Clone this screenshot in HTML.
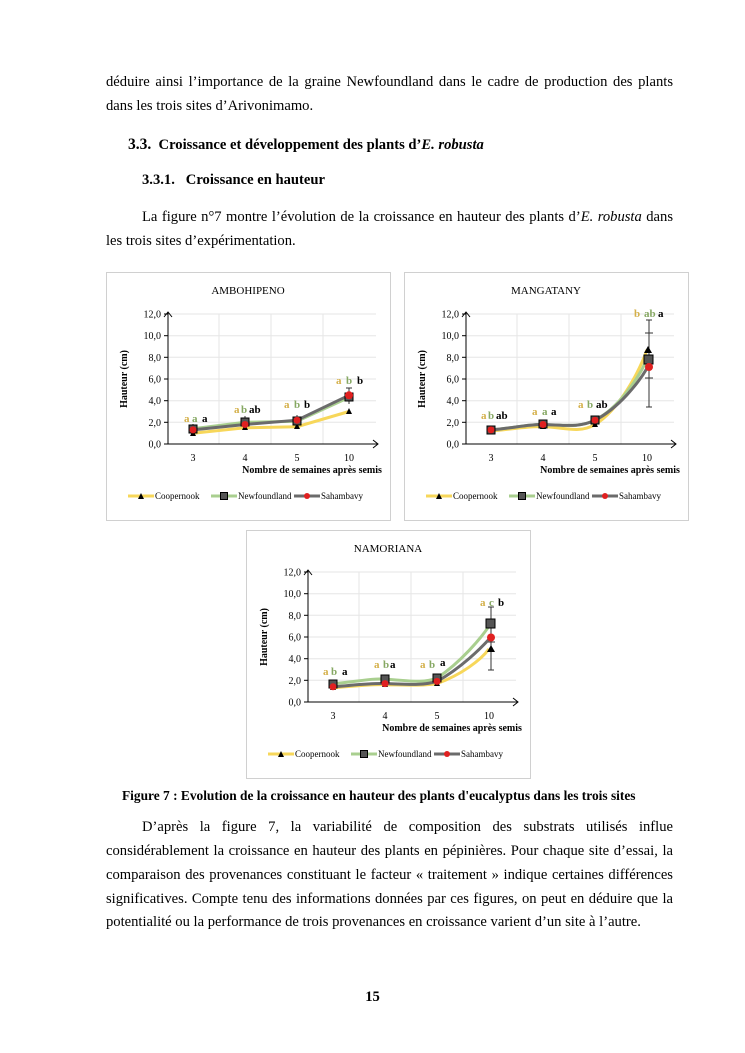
<!DOCTYPE html>
<html><head><meta charset="utf-8"><style>
body{margin:0;background:#fff;}
.pg{position:relative;width:745px;height:1053px;font-family:"Liberation Serif",serif;font-size:14.6px;color:#000;}
.l{position:absolute;left:106px;width:567px;white-space:nowrap;}
.j{text-align:justify;text-align-last:justify;}
.b{font-weight:bold;}
svg text{font-family:"Liberation Serif",serif;}
</style></head><body><div class="pg">
<div class="l j" style="top:74px">déduire ainsi l’importance de la graine Newfoundland dans le cadre de production des plants</div>
<div class="l" style="top:98px">dans les trois sites d’Arivonimamo.</div>
<div class="l b" style="top:136px;left:128px"><span style="font-size:15.5px">3.3.</span>&nbsp; Croissance et développement des plants d’<i>E. robusta</i></div>
<div class="l b" style="top:172px;left:142px">3.3.1.&nbsp;&nbsp; Croissance en hauteur</div>
<div class="l j" style="top:209px;left:142px;width:531px">La figure n°7 montre l’évolution de la croissance en hauteur des plants d’<i>E. robusta</i> dans</div>
<div class="l" style="top:233px">les trois sites d’expérimentation.</div>

<svg style="position:absolute;left:0;top:0" width="745" height="1053">
<defs>
<g id="ax">
<rect x="0.5" y="0.5" width="284" height="248" fill="#fff" stroke="#d0d0d0"/>
<g stroke="#e6e6e6" stroke-width="1">
<line x1="62" x2="270" y1="150.3" y2="150.3"/><line x1="62" x2="270" y1="128.7" y2="128.7"/><line x1="62" x2="270" y1="107" y2="107"/><line x1="62" x2="270" y1="85.3" y2="85.3"/><line x1="62" x2="270" y1="63.7" y2="63.7"/><line x1="62" x2="270" y1="42" y2="42"/>
<line x1="113" x2="113" y1="42" y2="172"/><line x1="165" x2="165" y1="42" y2="172"/><line x1="217" x2="217" y1="42" y2="172"/>
</g>
<g stroke="#000" fill="none" stroke-width="1">
<line x1="62" y1="172" x2="272" y2="172"/><polyline points="267,168 272,172 267,176"/>
<line x1="62" y1="172" x2="62" y2="40"/><polyline points="58,45 62,40 66,45"/>
<line x1="58" x2="62" y1="172" y2="172"/><line x1="58" x2="62" y1="150.3" y2="150.3"/><line x1="58" x2="62" y1="128.7" y2="128.7"/><line x1="58" x2="62" y1="107" y2="107"/><line x1="58" x2="62" y1="85.3" y2="85.3"/><line x1="58" x2="62" y1="63.7" y2="63.7"/><line x1="58" x2="62" y1="42" y2="42"/>
</g>
<g font-size="10" text-anchor="end">
<text x="55" y="175.5">0,0</text><text x="55" y="153.8">2,0</text><text x="55" y="132.2">4,0</text><text x="55" y="110.5">6,0</text><text x="55" y="88.8">8,0</text><text x="55" y="67.2">10,0</text><text x="55" y="45.5">12,0</text>
</g>
<g font-size="10" text-anchor="middle">
<text x="87" y="189">3</text><text x="139" y="189">4</text><text x="191" y="189">5</text><text x="243" y="189">10</text>
</g>
<text x="206" y="201" font-size="10" font-weight="bold" text-anchor="middle">Nombre de semaines après semis</text>
<text transform="translate(21,107) rotate(-90)" font-size="10" font-weight="bold" text-anchor="middle">Hauteur (cm)</text>
<g font-size="9">
<line x1="22" x2="48" y1="224" y2="224" stroke="#f7d75a" stroke-width="3"/><path d="M32 227 L35 221 L38 227Z"/><text x="49" y="227">Coopernook</text>
<line x1="105" x2="131" y1="224" y2="224" stroke="#a9cf8f" stroke-width="3"/><rect x="114.5" y="220.5" width="7" height="7" fill="#555" stroke="#000"/><text x="132" y="227">Newfoundland</text>
<line x1="188" x2="214" y1="224" y2="224" stroke="#6b6b6b" stroke-width="3"/><circle cx="201" cy="224" r="3" fill="#e02020"/><text x="215" y="227">Sahambavy</text>
</g>
</g>
</defs>

<!-- AMBOHIPENO -->
<g transform="translate(106,272)">
<use href="#ax"/>
<text x="142" y="22" font-size="11" text-anchor="middle">AMBOHIPENO</text>
<g stroke="#333" stroke-width="1"><line x1="243" x2="243" y1="116" y2="132"/><line x1="240" x2="246" y1="116" y2="116"/><line x1="191" x2="191" y1="143" y2="154"/><line x1="139" x2="139" y1="144" y2="155"/><line x1="87" x2="87" y1="152" y2="164"/></g>
<polyline fill="none" stroke="#f7d75a" stroke-width="3" points="87,161.2 139,155.8 191,154.7 243,139.5"/>
<polyline fill="none" stroke="#a9cf8f" stroke-width="3" points="87,156.8 139,150.3 191,149.2 243,125.4"/>
<polyline fill="none" stroke="#6b6b6b" stroke-width="3" points="87,157.9 139,152.5 191,148.2 243,123.3"/>
<g><path d="M84 164 L87 158 L90 164Z"/><path d="M136 158 L139 152 L142 158Z"/><path d="M188 157 L191 151 L194 157Z"/><path d="M240 142 L243 136 L246 142Z"/></g>
<g fill="#555" stroke="#000"><rect x="83" y="153" width="8" height="8"/><rect x="135" y="146" width="8" height="8"/><rect x="187" y="145" width="8" height="8"/><rect x="239" y="121" width="8" height="8"/></g>
<g fill="#e02020"><circle cx="87" cy="157.9" r="3.5"/><circle cx="139" cy="152.5" r="3.5"/><circle cx="191" cy="148.2" r="3.5"/><circle cx="243" cy="123.3" r="4"/></g>
<g font-size="11" font-weight="bold">
<text x="78" y="150" fill="#d4b04a">a</text><text x="86" y="150" fill="#86a863">a</text><text x="96" y="150">a</text>
<text x="128" y="141" fill="#d4b04a">a</text><text x="135" y="141" fill="#86a863">b</text><text x="143" y="141">ab</text>
<text x="178" y="136" fill="#d4b04a">a</text><text x="188" y="136" fill="#86a863">b</text><text x="198" y="136">b</text>
<text x="230" y="112" fill="#d4b04a">a</text><text x="240" y="112" fill="#86a863">b</text><text x="251" y="112">b</text>
</g>
</g>

<!-- MANGATANY -->
<g transform="translate(404,272)">
<use href="#ax"/>
<text x="142" y="22" font-size="11" text-anchor="middle">MANGATANY</text>
<g stroke="#333" stroke-width="1"><line x1="245" x2="245" y1="48" y2="135"/><line x1="242" x2="248" y1="48" y2="48"/><line x1="241" x2="249" y1="61" y2="61"/><line x1="241" x2="249" y1="106" y2="106"/><line x1="242" x2="248" y1="135" y2="135"/></g>
<path fill="none" stroke="#f7d75a" stroke-width="3" d="M87 159 C110 157,125 154,139 154.7 C160 155,175 162,191 152.5 C215 138,235 100,243 77.8"/>
<path fill="none" stroke="#a9cf8f" stroke-width="3" d="M87 157.9 C110 156,125 152,139 152.5 C160 153,175 156,191 148.2 C215 136,235 105,243 87.5"/>
<path fill="none" stroke="#6b6b6b" stroke-width="3" d="M87 157.9 C110 156,125 152,139 152.5 C160 153,175 156,191 148.2 C215 136,235 110,243 96.2"/>
<g><path d="M84 162 L87 156 L90 162Z"/><path d="M136 157 L139 151 L142 157Z"/><path d="M188 155 L191 149 L194 155Z"/><path d="M240 81 L244 74 L248 81Z"/></g>
<g fill="#555" stroke="#000"><rect x="83" y="154" width="8" height="8"/><rect x="135" y="148" width="8" height="8"/><rect x="187" y="144" width="8" height="8"/><rect x="240" y="83" width="9" height="9"/></g>
<g fill="#e02020"><circle cx="87" cy="157.9" r="3.5"/><circle cx="139" cy="152.5" r="3.5"/><circle cx="191" cy="148.2" r="3.5"/><circle cx="245" cy="95" r="4"/></g>
<g font-size="11" font-weight="bold">
<text x="77" y="147" fill="#d4b04a">a</text><text x="84" y="147" fill="#86a863">b</text><text x="92" y="147">ab</text>
<text x="128" y="143" fill="#d4b04a">a</text><text x="138" y="143" fill="#86a863">a</text><text x="147" y="143">a</text>
<text x="174" y="136" fill="#d4b04a">a</text><text x="183" y="136" fill="#86a863">b</text><text x="192" y="136">ab</text>
<text x="230" y="45" fill="#d4b04a">b</text><text x="240" y="45" fill="#86a863">ab</text><text x="254" y="45">a</text>
</g>
</g>

<!-- NAMORIANA -->
<g transform="translate(246,530)">
<use href="#ax"/>
<text x="142" y="22" font-size="11" text-anchor="middle">NAMORIANA</text>
<g stroke="#333" stroke-width="1"><line x1="245" x2="245" y1="77" y2="140"/><line x1="242" x2="248" y1="77" y2="77"/><line x1="242" x2="248" y1="140" y2="140"/><line x1="241" x2="249" y1="112" y2="112"/></g>
<path fill="none" stroke="#f7d75a" stroke-width="3" d="M87 157.9 C110 156,125 154,139 154.7 C160 155,175 156,191 153.6 C215 145,235 130,243 118.9"/>
<path fill="none" stroke="#a9cf8f" stroke-width="3" d="M87 153.6 C110 152,125 148,139 149.2 C160 150,175 154,191 148.2 C215 132,235 108,243 96.2"/>
<path fill="none" stroke="#6b6b6b" stroke-width="3" d="M87 156.8 C110 155,125 153,139 153.6 C160 154,175 156,191 151.4 C215 138,235 118,243 109.2"/>
<g><path d="M84 160 L87 154 L90 160Z"/><path d="M136 157 L139 151 L142 157Z"/><path d="M188 156 L191 150 L194 156Z"/><path d="M241 122 L245 115 L249 122Z"/></g>
<g fill="#555" stroke="#000"><rect x="83" y="150" width="8" height="8"/><rect x="135" y="145" width="8" height="8"/><rect x="187" y="144" width="8" height="8"/><rect x="240" y="89" width="9" height="9"/></g>
<g fill="#e02020"><circle cx="87" cy="156.8" r="3.5"/><circle cx="139" cy="153.6" r="3.5"/><circle cx="191" cy="151.4" r="3.5"/><circle cx="245" cy="107.5" r="4"/></g>
<g font-size="11" font-weight="bold">
<text x="77" y="145" fill="#d4b04a">a</text><text x="85" y="145" fill="#86a863">b</text><text x="96" y="145">a</text>
<text x="128" y="138" fill="#d4b04a">a</text><text x="137" y="138" fill="#86a863">b</text><text x="144" y="138">a</text>
<text x="174" y="138" fill="#d4b04a">a</text><text x="183" y="138" fill="#86a863">b</text><text x="194" y="136">a</text>
<text x="234" y="76" fill="#d4b04a">a</text><text x="243" y="76" fill="#86a863">c</text><text x="252" y="76">b</text>
</g>
</g>
</svg>

<div class="l b" style="top:788px;left:122px;font-size:13.4px">Figure 7 : Evolution de la croissance en hauteur des plants d'eucalyptus dans les trois sites</div>
<div class="l j" style="top:819px;left:142px;width:531px">D’après la figure 7, la variabilité de composition des substrats utilisés influe</div>
<div class="l j" style="top:843px">considérablement la croissance en hauteur des plants en pépinières. Pour chaque site d’essai, la</div>
<div class="l j" style="top:867px">comparaison des provenances constituant le facteur « traitement » indique certaines différences</div>
<div class="l j" style="top:891px">significatives. Compte tenu des informations données par ces figures, on peut en déduire que la</div>
<div class="l" style="top:914px">potentialité ou la performance de trois provenances en croissance varient d’un site à l’autre.</div>
<div class="l b" style="top:989px;left:0;width:745px;text-align:center">15</div>
</div></body></html>
